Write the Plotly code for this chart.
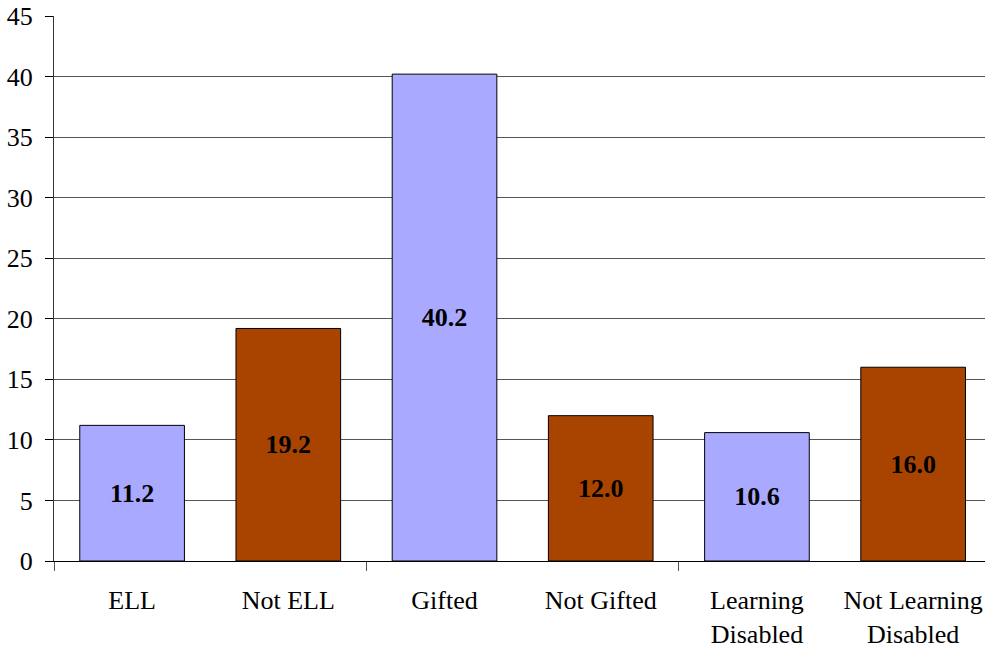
import plotly.graph_objects as go

categories = ["ELL", "Not ELL", "Gifted", "Not Gifted", "Learning<br>Disabled", "Not Learning<br>Disabled"]
values = [11.2, 19.2, 40.2, 12.0, 10.6, 16.0]
bar_colors = ["#A9A9FF", "#A94400", "#A9A9FF", "#A94400", "#A9A9FF", "#A94400"]
y_ticks = [0, 5, 10, 15, 20, 25, 30, 35, 40, 45]
group_bounds = [-0.5, 1.5, 3.5, 5.5]

serif = "Liberation Serif, Times New Roman, serif"
x_pos = list(range(len(categories)))

fig = go.Figure()
fig.add_trace(go.Bar(
    x=x_pos, y=values,
    marker=dict(color=bar_colors, line=dict(color="black", width=1)),
    width=0.67,
    text=[f"{v:.1f}" for v in values],
    textposition="inside", insidetextanchor="middle",
    textfont=dict(family=serif, size=26, color="black", weight="bold"),
    textangle=0,
    hoverinfo="skip",
))
fig.add_trace(go.Scatter(x=[group_bounds[0]], y=[0], xaxis="x2", mode="markers",
                         marker=dict(opacity=0), showlegend=False, hoverinfo="skip"))

fig.update_layout(
    width=985, height=648,
    margin=dict(l=54, r=0, t=16, b=87, autoexpand=False),
    paper_bgcolor="white", plot_bgcolor="white",
    showlegend=False,
    font=dict(family=serif, size=26, color="black"),
    uniformtext=dict(minsize=10, mode="show"),
    xaxis=dict(
        range=[-0.5, 5.46],
        tickvals=x_pos, ticktext=categories,
        ticks="", showgrid=False, zeroline=False,
        showline=True, linecolor="black", linewidth=1,
        tickfont=dict(family=serif, size=26, color="black"),
        ticklabelstandoff=16,
    ),
    xaxis2=dict(
        overlaying="x", side="bottom",
        range=[-0.5, 5.46],
        tickvals=group_bounds, ticktext=["", "", "", ""],
        ticks="outside", ticklen=9, tickcolor="#555555", tickwidth=1,
        showgrid=False, zeroline=False, showline=False,
    ),
    yaxis=dict(
        range=[0, 45], tickvals=y_ticks,
        ticks="outside", ticklen=8, tickcolor="black",
        showgrid=True, gridcolor="#555555", gridwidth=1,
        zeroline=False,
        showline=True, linecolor="#333333", linewidth=1,
        tickfont=dict(family=serif, size=26, color="black"),
        ticklabelstandoff=7,
    ),
    bargap=0.33,
)

fig.write_html("out.html", config={"displayModeBar": False})
with open("out.html", "r", encoding="utf-8") as f:
    html = f.read()
html = html.replace("<head>", "<head><style>html,body{margin:0;padding:0;overflow:hidden;}</style>", 1)
with open("out.html", "w", encoding="utf-8") as f:
    f.write(html)
